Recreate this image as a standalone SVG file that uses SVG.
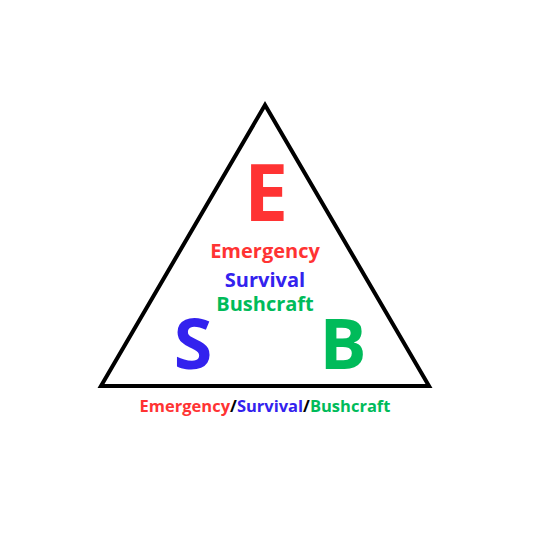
<svg xmlns="http://www.w3.org/2000/svg" width="546" height="546" viewBox="0 0 546 546">
<style>
text{font-family:"Open Sans","Liberation Sans",sans-serif;font-weight:bold;text-anchor:middle}
.r{fill:#FF3333}.b{fill:#3322EE}.g{fill:#00BB5A}
</style>
<rect width="546" height="546" fill="#fff"/>
<g id="triangle"><polygon points="265,105 101,386 429,386" fill="none" stroke="#000" stroke-width="4" stroke-linejoin="miter"/></g>
<g id="E"><text x="266" y="221" font-size="79" class="r">E</text></g>
<g id="S"><text x="193" y="369" font-size="70" class="b">S</text></g>
<g id="B"><text x="343" y="369" font-size="70" class="g">B</text></g>
<g id="labels">
<text x="265" y="258" font-size="20" class="r">Emergency</text>
<text x="265" y="287" font-size="20" class="b">Survival</text>
<text x="265" y="311" font-size="20" class="g">Bushcraft</text>
<text x="265" y="412" font-size="16.5"><tspan class="r">Emergency</tspan><tspan fill="#000">/</tspan><tspan class="b">Survival</tspan><tspan fill="#000">/</tspan><tspan class="g">Bushcraft</tspan></text>
</g>
</svg>
